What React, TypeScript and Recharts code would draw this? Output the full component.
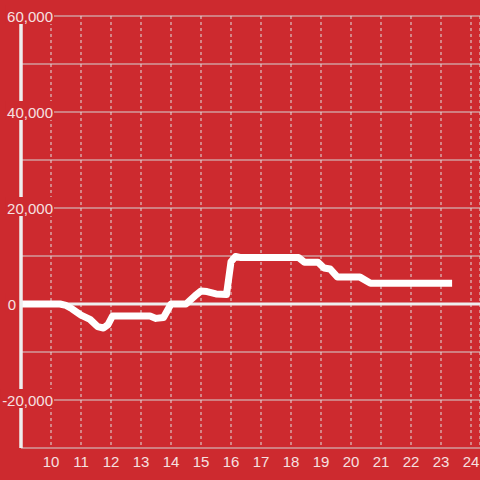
import React from 'react';
import { CartesianGrid, Line, LineChart, ReferenceLine, XAxis, YAxis } from 'recharts';

const hours = [9, 10.3, 10.5, 10.7, 11.0, 11.3, 11.55, 11.75, 11.9, 12.05, 13.3, 13.5, 13.75, 14.0, 14.5, 14.8, 15.0, 15.2, 15.5, 15.85, 16.0, 16.15, 16.3, 18.25, 18.45, 18.9, 19.1, 19.3, 19.55, 20.3, 20.65, 23.37];
const balance = [0, 0, -300, -1000, -2300, -3200, -4700, -5000, -4300, -2500, -2500, -3000, -2800, 0, 0, 1700, 2700, 2600, 2100, 2000, 8800, 9900, 9700, 9700, 8700, 8700, 7500, 7300, 5600, 5600, 4300, 4300];

const xTicks = [10, 11, 12, 13, 14, 15, 16, 17, 18, 19, 20, 21, 22, 23, 24];
const yTicks = [-30000, -20000, -10000, 0, 10000, 20000, 30000, 40000, 50000, 60000];

const data = hours.map((t, i) => ({ t, v: balance[i] }));

const BG = '#cd2a2f';
const LABEL = '#f6e0e0';
const FONT = '"Liberation Sans", Arial, sans-serif';

const textWidth = (s: string) =>
  s.split('').reduce((w, c) => w + (c === ',' ? 4.2 : c === '-' ? 5 : 8.34), 0);

const YTick = ({ y, payload }: any) => {
  const v = payload.value as number;
  if (v % 20000 !== 0) return null;
  const label = v.toLocaleString('en-US');
  const w = textWidth(label);
  // the zero label sits left of the axis, the others overlap it
  const right = v === 0 ? 16 : 53;
  return (
    <g>
      <rect x={right - w - 2} y={y - 11} width={w + 3} height={19} fill={BG} />
      <text x={right} y={y} dy={5.5} textAnchor="end" fill={LABEL} fontSize={15} fontFamily={FONT}>
        {label}
      </text>
    </g>
  );
};

export default function App() {
  return (
    <div style={{ position: 'fixed', left: 0, top: 0, width: 480, height: 480, background: BG }}>
      <LineChart width={480} height={480} data={data} margin={{ top: 16, right: 0, bottom: 0, left: 0 }}>
        <CartesianGrid horizontal={true} vertical={false} stroke="#d4d4d4" strokeWidth={1} />
        <CartesianGrid horizontal={false} vertical={true} stroke="#e0e0e0" strokeDasharray="3 3" />
        <XAxis
          dataKey="t"
          type="number"
          domain={[9, 24.3]}
          ticks={xTicks}
          allowDataOverflow
          height={32}
          axisLine={false}
          tickLine={false}
          tick={{ fill: LABEL, fontSize: 15, fontFamily: FONT }}
          interval={0}
        />
        <YAxis
          type="number"
          domain={[-30000, 60000]}
          ticks={yTicks}
          width={21}
          interval={0}
          axisLine={{ stroke: '#eeeeee', strokeWidth: 3.5 }}
          tickLine={false}
          tick={<YTick />}
        />
        <ReferenceLine
          segment={[{ x: 9, y: 0 }, { x: 24.3, y: 0 }]}
          stroke="#eeeeee"
          strokeWidth={3}
        />
        <Line
          type="linear"
          dataKey="v"
          stroke="#ffffff"
          strokeWidth={7}
          strokeLinejoin="round"
          dot={false}
          activeDot={false}
          isAnimationActive={false}
        />
      </LineChart>
    </div>
  );
}
